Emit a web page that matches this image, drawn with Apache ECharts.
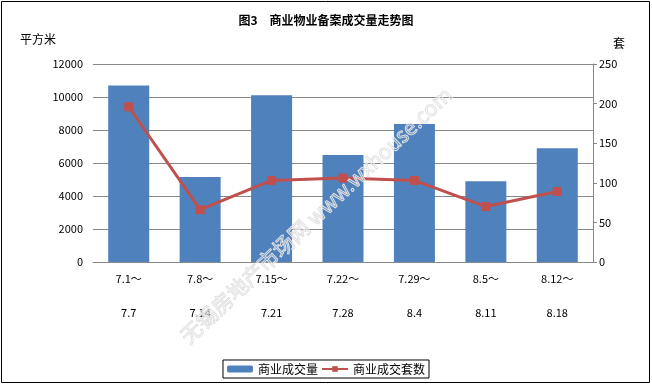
<!DOCTYPE html>
<html><head><meta charset="utf-8">
<script src="https://cdn.jsdelivr.net/npm/echarts@6/dist/echarts.min.js"></script>
<style>html,body{margin:0;padding:0;background:#fff}#c{width:652px;height:385px;box-sizing:border-box;}</style>
</head><body><div id="c"></div>
<script>
const categories = ['7.1～\n\n7.7','7.8～\n\n7.14','7.15～\n\n7.21','7.22～\n\n7.28','7.29～\n\n8.4','8.5～\n\n8.11','8.12～\n\n8.18'];
const areaValues = [10700, 5150, 10100, 6480, 8360, 4900, 6900];
const unitValues = [196, 66, 103, 106, 103, 70, 89];
const leftTicks = [0, 12000, 2000];
const rightTicks = [0, 250, 50];
const font = '"Noto Sans CJK SC", sans-serif';
const chart = echarts.init(document.getElementById('c'));
chart.setOption({
  animation: false,
  backgroundColor: '#fff',
  title: {text: '图3　商业物业备案成交量走势图', left: 'center', top: 9,
    textStyle: {fontSize: 12, fontWeight: 'bold', color: '#000', fontFamily: font}},
  graphic: [
    {type: 'rect', shape: {x: 1.5, y: 1.5, width: 648, height: 381}, style: {fill: 'none', stroke: '#000', lineWidth: 1}, silent: true, z: 100},
    {type: 'text', left: 20, top: 33, style: {text: '平方米', font: '12px ' + font, fill: '#000'}},
    {type: 'text', left: 613, top: 37, style: {text: '套', font: '12px ' + font, fill: '#000'}},
    {type: 'text', x: 316, y: 215, rotation: Math.PI * 0.24, originX: 0, originY: 0,
      style: {text: '无锡房地产市场网 www.wxhouse.com', font: '21px ' + font, fill: 'rgba(255,255,255,0)', stroke: '#e2e2e2', lineWidth: 1, align: 'center', verticalAlign: 'middle'}, z: 50, silent: true}
  ],
  legend: {
    bottom: 7, left: 'center',
    data: ['商业成交量', '商业成交套数'],
    borderColor: '#000', borderWidth: 1, borderRadius: 0,
    padding: [3, 4, 3, 4], itemGap: 3, itemWidth: 26, itemHeight: 7,
    textStyle: {fontSize: 12, color: '#000', fontFamily: font}
  },
  grid: {left: 93, right: 59, top: 64, bottom: 123, containLabel: false},
  xAxis: {
    type: 'category', data: categories,
    axisLine: {lineStyle: {color: '#888'}},
    axisTick: {show: false},
    axisLabel: {color: '#000', fontSize: 11, fontFamily: font, lineHeight: 17, margin: 8}
  },
  yAxis: [
    {type: 'value', min: leftTicks[0], max: leftTicks[1], interval: leftTicks[2],
     axisLine: {show: false}, axisTick: {show: false},
     splitLine: {lineStyle: {color: '#888', width: 1}},
     axisLabel: {color: '#000', fontSize: 11, fontFamily: font, margin: 10, formatter: v => String(v)}},
    {type: 'value', min: rightTicks[0], max: rightTicks[1], interval: rightTicks[2],
     position: 'right',
     axisLine: {show: true, lineStyle: {color: '#888'}},
     axisTick: {show: true, length: 4, lineStyle: {color: '#888'}},
     splitLine: {show: false},
     axisLabel: {color: '#000', fontSize: 11, fontFamily: font, margin: 6}}
  ],
  series: [
    {name: '商业成交量', type: 'bar', data: areaValues, barWidth: 41, yAxisIndex: 0,
     itemStyle: {color: '#4F81BD'}},
    {name: '商业成交套数', type: 'line', data: unitValues, yAxisIndex: 1,
     symbol: 'rect', symbolSize: 9, showSymbol: true,
     lineStyle: {color: '#C0504D', width: 3},
     itemStyle: {color: '#C0504D'}}
  ]
});
</script></body></html>
